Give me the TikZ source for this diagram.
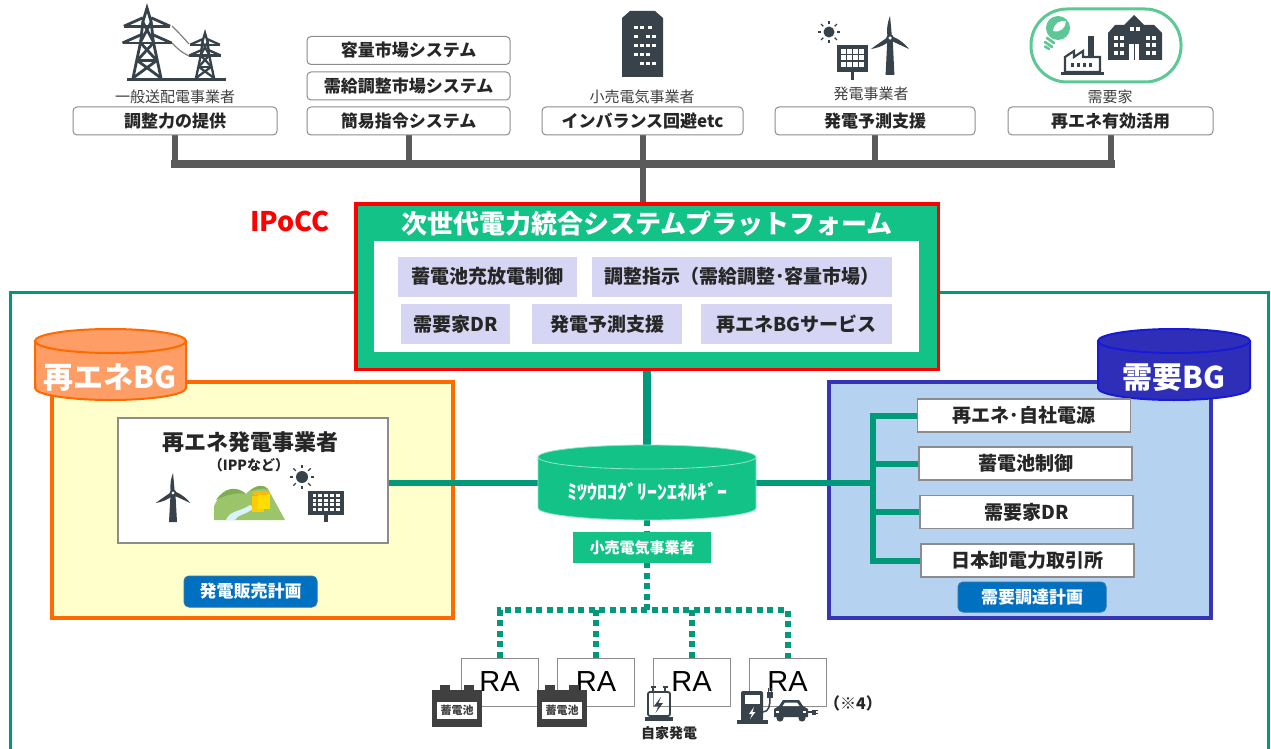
\documentclass[tikz,border=0pt]{standalone}
\usepackage{fontspec}
\setmainfont{Noto Sans CJK JP}
\newfontfamily\arialfont{Liberation Sans}
\usetikzlibrary{calc}
\pgfdeclarelayer{back}
\pgfdeclarelayer{mid}
\pgfsetlayers{back,mid,main}

\definecolor{tealline}{HTML}{00997A}
\definecolor{pfgreen}{HTML}{12C286}
\definecolor{lav}{HTML}{D6D6F4}
\definecolor{busgray}{HTML}{5A5A5A}
\definecolor{icondark}{HTML}{37424A}
\definecolor{batgray}{HTML}{404040}
\definecolor{orgline}{HTML}{FF6A00}
\definecolor{orgfill}{HTML}{FF9D66}
\definecolor{yelfill}{HTML}{FFFFCC}
\definecolor{bluline}{HTML}{3535B5}
\definecolor{blufill}{HTML}{B5D3F0}
\definecolor{bgnavy}{HTML}{2E2EB8}
\definecolor{btnblue}{HTML}{0070C0}
\definecolor{boxgray}{HTML}{8C8C8C}
\definecolor{txtdark}{HTML}{262626}
\definecolor{leafgreen}{HTML}{5CC896}
\definecolor{hillgreen}{HTML}{9CC46A}
\definecolor{hilldark}{HTML}{7FAE52}

\tikzset{
  topbox/.style={draw=boxgray, line width=1, rounded corners=4, fill=white, inner sep=0,
    minimum height=28, font=\bfseries\fontsize{17}{17}\selectfont, text=txtdark},
  toplabel/.style={inner sep=0, font=\fontsize{15}{15}\selectfont, text=batgray},
  pfitem/.style={fill=lav, inner sep=0, minimum height=40,
    font=\bfseries\fontsize{19}{19}\selectfont, text=txtdark},
  bgitem/.style={draw=boxgray, line width=1.5, fill=white, inner sep=0, minimum width=213,
    minimum height=33, font=\bfseries\fontsize{19}{19}\selectfont, text=txtdark},
  planbtn/.style={fill=btnblue, draw=btnblue!70!gray, line width=1, rounded corners=5, inner sep=0,
    font=\bfseries\fontsize{17}{17}\selectfont, text=white},
  rabox/.style={draw=boxgray, line width=1, fill=white, inner sep=0, minimum width=77,
    minimum height=48, font=\arialfont\fontsize{29}{29}\selectfont},
  drumtext/.style={inner sep=0, text=white, font=\bfseries\fontsize{30}{30}\selectfont},
  busline/.style={draw=busgray, line width=6},
  link/.style={draw=tealline, line width=6},
  dotlink/.style={draw=tealline, line width=6, dash pattern=on 6pt off 4.5pt},
}

% upright drum: centre x, centre y of top ellipse, x radius, y radius, body height, style
\newcommand\drumshape[6]{%
  \path[#6] ({#1-#3},#2) -- ({#1-#3},{#2+#5})
    .. controls ({#1-#3},{#2+#5+0.5523*#4}) and ({#1-0.5523*#3},{#2+#5+#4}) .. ({#1},{#2+#5+#4})
    .. controls ({#1+0.5523*#3},{#2+#5+#4}) and ({#1+#3},{#2+#5+0.5523*#4}) .. ({#1+#3},{#2+#5})
    -- ({#1+#3},#2) -- cycle;
  \path[#6] (#1,#2) ellipse [x radius=#3, y radius=#4];
}

% lattice pylon: base x, base y, height, line width
\newcommand\pylon[4]{%
  \begin{scope}[shift={(#1,#2)}, scale=#3, draw=icondark, line width=#4, line join=miter]
    \draw (-0.2,0) -- (-0.09,-0.52) -- (-0.06,-0.8) -- (0,-1) -- (0.06,-0.8) -- (0.09,-0.52) -- (0.2,0);
    \draw (-0.33,-0.74) -- (0.33,-0.74);
    \draw (-0.33,-0.74) -- (-0.06,-0.86) (0.33,-0.74) -- (0.06,-0.86);
    \draw (-0.35,-0.5) -- (0.35,-0.5);
    \draw (-0.35,-0.5) -- (-0.08,-0.62) (0.35,-0.5) -- (0.08,-0.62);
    \draw (-0.06,-0.8) -- (0.09,-0.52) (0.06,-0.8) -- (-0.09,-0.52);
    \draw (-0.09,-0.5) -- (0.14,-0.25) (0.09,-0.5) -- (-0.14,-0.25);
    \draw (-0.14,-0.25) -- (0.14,-0.25);
    \draw (-0.14,-0.25) -- (0.2,0) (0.14,-0.25) -- (-0.2,0);
  \end{scope}}

% sun: centre x, centre y, radius
\newcommand\sunicon[3]{%
  \fill[icondark] (#1,#2) circle (#3);
  \foreach \a in {0,45,...,315}
    \draw[icondark, line width=1.3] ($(#1,#2)+(\a:{#3*1.45})$) -- ($(#1,#2)+(\a:{#3*2.05})$);}

% solar panel: left, top, width, height, columns, rows
\newcommand\solarpanel[6]{%
  \fill[icondark] (#1,#2) rectangle ++(#3,#4);
  \foreach \i in {1,...,#5} \foreach \j in {1,...,#6}
    \fill[white] ({#1+0.1*#3+(\i-1)*0.8*#3/#5+0.025*#3},{#2+0.1*#4+(\j-1)*0.75*#4/#6+0.03*#4})
      rectangle ++({0.8*#3/#5-0.05*#3},{0.75*#4/#6-0.06*#4});
  \fill[icondark] ({#1+0.45*#3},{#2+#4}) rectangle ++({0.1*#3},{0.28*#4});}

% wind turbine: hub x, hub y, blade length, tower length
\newcommand\turbine[4]{%
  \fill[icondark] ({#1-0.12*#3},#2) -- ({#1+0.12*#3},#2) -- ({#1+0.2*#3},{#2+#4}) -- ({#1-0.2*#3},{#2+#4}) -- cycle;
  \foreach \a in {90,210,330}{
    \begin{scope}[shift={(#1,#2)}, rotate=\a]
      \fill[icondark] (0,{-0.09*#3}) .. controls ({0.35*#3},{-0.2*#3}) and ({0.8*#3},{-0.08*#3}) .. ({#3},0)
        .. controls ({0.6*#3},{0.04*#3}) .. (0,{0.09*#3}) -- cycle;
    \end{scope}}
  \fill[icondark] (#1,#2) circle ({0.17*#3});
  \fill[white] (#1,#2) circle ({0.08*#3});}

% battery with printed label: name, left x
\newcommand\battery[2]{%
  \fill[batgray] (#2,690) rectangle ++(50,37);
  \fill[batgray] ({#2+8},685) rectangle ++(10,6);
  \fill[batgray] ({#2+32},685) rectangle ++(10,6);
  \node[fill=white, inner sep=0, minimum width=40, minimum height=17, text=batgray,
    font=\bfseries\fontsize{11}{11}\selectfont] (#1) at ({#2+25},710) {蓄電池};}

\begin{document}
\begin{tikzpicture}[x=1pt,y=-1pt]
\useasboundingbox (0,0) rectangle (1271,749);

% ---------- frames and balancing-group panels ----------
\begin{pgfonlayer}{back}
  \fill[white] (0,0) rectangle (1271,749);
  \draw[tealline, line width=3] (10,292) rectangle (1268.5,780);
  \draw[orgline, fill=yelfill, line width=3.5] (52,382) rectangle (453,618);
  \drumshape{110.5}{341}{75.5}{12}{47}{fill=orgfill, draw=orgline, line width=2}
  \draw[bluline, fill=blufill, line width=3.5] (829,382) rectangle (1211,618);
  \drumshape{1174}{341}{76}{12}{47}{fill=bgnavy, draw=blue!45!bgnavy, line width=2}
\end{pgfonlayer}

% ---------- upper row: market players and services ----------
\node[topbox, minimum width=204] (t1) at (175,121) {調整力の提供};
\node[topbox, minimum width=203] (m1) at (408.5,50.5) {容量市場システム};
\node[topbox, minimum width=203] (m2) at (408.5,86) {需給調整市場システム};
\node[topbox, minimum width=203] (t2) at (408.5,121) {簡易指令システム};
\node[topbox, minimum width=201] (t3) at (642.5,121) {インバランス回避etc};
\node[topbox, minimum width=200] (t4) at (875,121) {発電予測支援};
\node[topbox, minimum width=205] (t5) at (1110.5,121) {再エネ有効活用};

\node[toplabel] (l1) at (175,97) {一般送配電事業者};
\node[toplabel] (l3) at (642,97) {小売電気事業者};
\node[toplabel] (l4) at (871,94) {発電事業者};
\node[toplabel] (l5) at (1110,97) {需要家};

% transmission pylons
\pylon{147}{78}{70}{2.8}
\pylon{205}{78}{45}{2.3}
\draw[gray, line width=1.2] (172,26) .. controls (180,34) .. (189,44);
\draw[gray, line width=1.2] (172,43) .. controls (180,51) .. (189,56);
\draw[icondark, line width=3] (127,80) -- (226,80);

% retailer building
\fill[icondark] (622,77) -- (622,18) -- (630,11) -- (655,11) -- (663,18) -- (663,77) -- cycle;
\foreach \xx/\yy in {634/26,640/26,648/26,634/35,646/35,652/35,634/44,640/44,646/44,652/44,
                     634/53,640/53,646/53,640/62,646/62,652/62}
  \fill[white] (\xx,\yy) rectangle ++(3.5,3.5);

% generator icon
\sunicon{829}{32}{5.5}
\solarpanel{837}{45}{31}{27}{4}{3}
\turbine{890}{38}{22}{37}

% consumer icon
\draw[leafgreen, line width=3, fill=white, rounded corners=36] (1031,9) rectangle (1181,82);
\fill[leafgreen] (1058,28) circle (12);
\fill[white] (1053,31) .. controls (1054,23) and (1060,20) .. (1066,21) .. controls (1066,28) and (1060,33) .. (1053,31) -- cycle;
\draw[leafgreen, line width=2.6, line cap=round] (1047,38) -- (1054,43) (1045,42) -- (1052,47) (1045,46.5) -- (1049,49);
\draw[icondark, line width=2.2, fill=white, line join=miter]
  (1065,72) -- (1065,57) -- (1074,51) -- (1074,57) -- (1083,51) -- (1083,57) -- (1100,57) -- (1100,72) -- cycle;
\fill[icondark] (1088,36) rectangle (1094,57);
\foreach \xx in {1071,1077,1083,1089} \fill[icondark] (\xx,63) rectangle ++(2.5,4);
\fill[icondark] (1061,72) rectangle (1104,75);
\fill[icondark] (1108,60) -- (1108,33) -- (1115,25) -- (1124,25) -- (1134,15) -- (1144,25) -- (1154,25) -- (1162,33) -- (1162,60) -- cycle;
\foreach \xx/\yy in {1114/36,1120/36,1114/43,1120/43,1146/36,1152/36,1146/43,1152/43,
                     1130/27,1136/27,1114/51,1120/51,1146/51,1152/51}
  \fill[white] (\xx,\yy) rectangle ++(4,4);
\fill[white] (1129,44) rectangle (1139,60);
\fill[icondark] (1133.6,44) rectangle (1134.4,60);

% ---------- integrated platform ----------
\node[text=red, font=\bfseries\fontsize{27}{27}\selectfont, inner sep=0] (ipocc) at (290,221) {IPoCC};
\node[draw=red, line width=3.5, fill=pfgreen, minimum width=582.5, minimum height=165.5, inner sep=0] (pf) at (647,286.5) {};
\node[fill=white, minimum width=545, minimum height=111, inner sep=0] (pfin) at (646.5,296.5) {};
\node[inner sep=0, text=white, font=\bfseries\fontsize{26}{26}\selectfont] (pftitle) at (647,224) {次世代電力統合システムプラットフォーム};
\node[pfitem, minimum width=179] (p1) at (487.5,276.5) {蓄電池充放電制御};
\node[pfitem, minimum width=300] (p2) at (742,276.5) {調整指示（需給調整･容量市場）};
\node[pfitem, minimum width=109] (p3) at (455.5,324) {需要家DR};
\node[pfitem, minimum width=150] (p4) at (607,324) {発電予測支援};
\node[pfitem, minimum width=191] (p5) at (796.5,324) {再エネBGサービス};

% ---------- retailer drum ----------
\drumshape{647}{457}{109}{12}{51}{fill=pfgreen, draw=white!55!pfgreen, line width=0.8}
\node[minimum width=218, minimum height=75, inner sep=0] (mgs) at (647,482.5) {};
\node[inner sep=0, text=white, font=\bfseries\fontsize{20}{20}\selectfont] (mgslabel) at (647,492) {ﾐﾂｳﾛｺｸﾞﾘｰﾝｴﾈﾙｷﾞｰ};
\node[fill=pfgreen, minimum width=138, minimum height=31, inner sep=0, text=white,
  font=\bfseries\fontsize{15}{15}\selectfont] (retail) at (642,547.5) {小売電気事業者};

% ---------- renewable balancing group ----------
\node[drumtext] (rebg) at (110,378) {再エネBG};
\node[draw=boxgray, line width=1.5, fill=white, minimum width=270, minimum height=125, inner sep=0] (ipp) at (253,480.5) {};
\node[inner sep=0, text=txtdark, font=\bfseries\fontsize{22}{22}\selectfont] (ipptitle) at (250,442) {再エネ発電事業者};
\node[inner sep=0, text=txtdark, font=\bfseries\fontsize{14}{14}\selectfont] (ippsub) at (249,465) {（IPPなど）};
\turbine{173}{493}{20}{29}
\fill[hillgreen] (214,520) -- (214,506) .. controls (220,492) and (234,484) .. (246,494)
  .. controls (252,487) and (262,483) .. (268,489) -- (285,520) -- cycle;
\fill[hilldark] (216,500) .. controls (224,488) and (236,485) .. (246,494) .. controls (236,492) and (226,495) .. (216,500) -- cycle;
\fill[hilldark] (250,491) .. controls (256,485) and (264,484) .. (268,489) .. controls (262,488) and (256,489) .. (250,491) -- cycle;
\fill[cyan!15] (226,520) .. controls (230,510) and (240,512) .. (250,505) -- (254,508)
  .. controls (244,516) and (238,514) .. (235,520) -- cycle;
\fill[yellow!65!orange] (252,496) rectangle (264,512);
\fill[yellow!80!orange] (258,493) rectangle (270,509);
\fill[yellow!50!orange] (258,493) ellipse [x radius=6, y radius=2];
\fill[yellow!50!orange] (264,493) ellipse [x radius=6, y radius=2];
\sunicon{302}{477}{6}
\solarpanel{308}{491}{36}{24}{5}{4}
\node[planbtn, minimum width=133, minimum height=31] (sellplan) at (250.5,591.5) {発電販売計画};

% ---------- demand balancing group ----------
\node[drumtext] (dembg) at (1174,378) {需要BG};
\node[bgitem] (r1) at (1024,415.5) {再エネ･自社電源};
\node[bgitem] (r2) at (1025.5,463.5) {蓄電池制御};
\node[bgitem] (r3) at (1026.5,512) {需要家DR};
\node[bgitem] (r4) at (1027.5,560.5) {日本卸電力取引所};
\node[planbtn, minimum width=148, minimum height=30] (buyplan) at (1032,597) {需要調達計画};

% ---------- resource aggregators ----------
\node[rabox] (ra1) at (499.5,682) {RA};
\node[rabox] (ra2) at (596,682) {RA};
\node[rabox] (ra3) at (691.5,682) {RA};
\node[rabox] (ra4) at (787.5,682) {RA};

\battery{bat1}{432}
\battery{bat2}{537}

% private generator (transformer)
\draw[icondark, line width=1.8, rounded corners=2] (648,692) rectangle (670,716);
\draw[icondark, line width=1.8] (653,686) -- (653,692) (665,686) -- (665,692);
\draw[icondark, line width=1.4] (650.5,687) -- (655.5,687) (662.5,687) -- (667.5,687);
\fill[icondark] (661,697) -- (654,706) -- (658.5,706) -- (655.5,713) -- (663,703) -- (658.5,703) -- cycle;
\fill[icondark] (645,717) rectangle (673,721);
\node[inner sep=0, text=txtdark, font=\bfseries\fontsize{14}{14}\selectfont] (selfgen) at (669,733) {自家発電};

% charging station and car
\fill[icondark, rounded corners=2] (741,721) -- (741,691) -- (763,691) -- (763,721) -- cycle;
\fill[white] (744.5,695) rectangle (759.5,704);
\fill[white] (754,707) -- (749,714) -- (752,714) -- (750,719) -- (755.5,712) -- (752.5,712) -- cycle;
\fill[icondark] (737,720) rectangle (768,724);
\draw[icondark, line width=1.5] (763,712) .. controls (769,712) and (770,705) .. (770,698);
\fill[icondark] (767,692) rectangle (773,698);
\draw[icondark, line width=1.2] (768.5,692) -- (768.5,688) (771.5,692) -- (771.5,688);
\fill[icondark] (774,717) -- (774,709) -- (779,706) -- (783,700) -- (799,700) -- (803,706) -- (808,709) -- (808,717) -- cycle;
\fill[white] (785,702.5) -- (797,702.5) -- (799.5,706) -- (782.5,706) -- cycle;
\fill[icondark] (780,718) circle (3.6);
\fill[icondark] (802,718) circle (3.6);
\fill[white] (776,711) rectangle (779,713);
\fill[white] (803,711) rectangle (806,713);
\draw[icondark, line width=1.2] (808,712) -- (812,712);
\fill[icondark] (812,709.5) rectangle (815.5,714.5);
\draw[icondark, line width=1] (815.5,710.5) -- (818,710.5) (815.5,713.5) -- (818,713.5);
\node[inner sep=0, text=txtdark, font=\bfseries\fontsize{16}{16}\selectfont] (note4) at (853,703) {（※4）};

% ---------- connectors ----------
\begin{pgfonlayer}{mid}
  \coordinate (topbus) at (0,164);
  \draw[draw=busgray, line width=8, line cap=rect] (t1.south |- topbus) -- (t5.south |- topbus);
  \draw[busline] (t1.south) -- (t1.south |- topbus);
  \draw[busline] (t2.south) -- (t2.south |- topbus);
  \draw[busline] (t4.south) -- (t4.south |- topbus);
  \draw[busline] (t5.south) -- (t5.south |- topbus);
  \draw[busline] (t3.south) -- (t3.south |- pf.north);

  \draw[link, line width=8] (pf.south) -- (mgs.center);
  \draw[link] (mgs.west) -- (mgs.west -| ipp.east);

  \coordinate (rbus) at (873,0);
  \draw[link] (mgs.east) -- (mgs.east -| rbus);
  \draw[link] (r1.west) -- (r1.west -| rbus) -- (r4.west -| rbus) -- (r4.west);
  \draw[link] (r2.west) -- (r2.west -| rbus);
  \draw[link] (r3.west) -- (r3.west -| rbus);

  \coordinate (dl) at (0,610);
  \draw[dotlink] (mgs.south) -- (mgs.south |- dl);
  \draw[dotlink] (ra1.north) -- (ra1.north |- dl) -- (ra4.north |- dl) -- (ra4.north);
  \draw[dotlink] (ra2.north) -- (ra2.north |- dl);
  \draw[dotlink] (ra3.north) -- (ra3.north |- dl);
\end{pgfonlayer}
\end{tikzpicture}
\end{document}
